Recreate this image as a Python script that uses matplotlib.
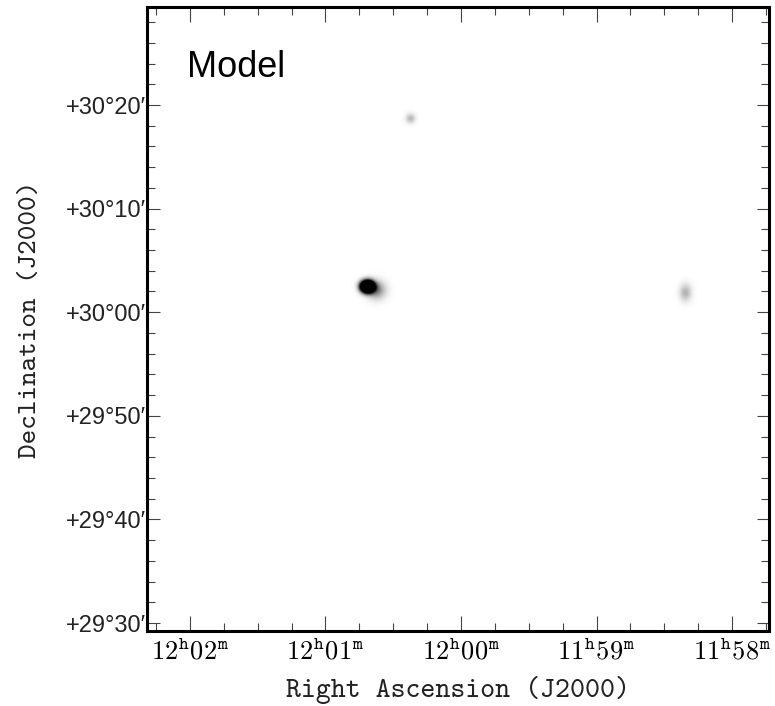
import numpy as np
import matplotlib as mpl
import matplotlib.pyplot as plt
from matplotlib.font_manager import FontProperties
import os

# model components: RA (minutes of time), Dec offset from +30 deg (arcmin),
# peak, sigma along RA (arcmin), sigma along Dec (arcmin)
comp_ra = [720.694, 720.627, 720.376, 718.347]
comp_dec = [2.43, 2.10, 18.65, 1.85]
comp_peak = [1.0, 0.12, 0.07, 0.075]
comp_sig_ra = [0.42, 0.60, 0.32, 0.40]
comp_sig_dec = [0.37, 0.60, 0.32, 0.58]

ra_ticks = [722, 721, 720, 719, 718]
ra_labels = ['12^{h}02^{m}', '12^{h}01^{m}', '12^{h}00^{m}', '11^{h}59^{m}', '11^{h}58^{m}']
dec_ticks = [-30, -20, -10, 0, 10, 20]
dec_labels = ['+29°30′', '+29°40′', '+29°50′', '+30°00′', '+30°10′', '+30°20′']

ra_lim = (722.317, 717.727)
dec_lim = (-30.77, 29.46)

plt.rcParams['mathtext.fontset'] = 'cm'
tt = FontProperties(fname=os.path.join(mpl.get_data_path(), 'fonts', 'ttf', 'cmtt10.ttf'))

# build model image
ra = np.linspace(ra_lim[1], ra_lim[0], 700)
dec = np.linspace(dec_lim[0], dec_lim[1], 700)
RA, DEC = np.meshgrid(ra, dec)
img = np.zeros_like(RA)
cosd = np.cos(np.radians(30.0))
for r0, d0, a, sx, sy in zip(comp_ra, comp_dec, comp_peak, comp_sig_ra, comp_sig_dec):
    dx = (RA - r0) * 15 * cosd
    dy = DEC - d0
    img += a * np.exp(-0.5 * ((dx / sx) ** 2 + (dy / sy) ** 2))

fig = plt.figure(figsize=(7.75, 7.06), dpi=100)
ax = fig.add_axes([0.1897, 0.1062, 0.8026, 0.8839])
ax.imshow(img, cmap='gray_r', vmin=0, vmax=0.25, origin='lower', aspect='auto',
          extent=[ra_lim[1], ra_lim[0], dec_lim[0], dec_lim[1]], interpolation='bilinear')
ax.set_xlim(ra_lim)
ax.set_ylim(dec_lim)

ax.set_xticks(ra_ticks)
ax.set_xticklabels(['$\\mathtt{' + s + '}$' for s in ra_labels], fontsize=19)
ax.set_xticks(np.arange(717.75, 722.5, 0.25), minor=True)
ax.set_yticks(dec_ticks)
ax.set_yticklabels(dec_labels, fontsize=17, family=['Liberation Sans', 'DejaVu Sans'],
                   color='#222')
ax.set_yticks(np.arange(-30, 30, 2), minor=True)

ax.tick_params(which='both', direction='in', top=True, right=True, color='#444', width=0.8)
ax.tick_params(axis='x', which='major', length=11, pad=6)
ax.tick_params(axis='y', which='major', length=9, pad=1)
ax.tick_params(which='minor', length=5.8)
for s in ax.spines.values():
    s.set_linewidth(2.2)

ax.set_xlabel('Right Ascension (J2000)', fontproperties=tt, fontsize=20.5, labelpad=8,
              color='#222')
ax.set_ylabel('Declination (J2000)', fontproperties=tt, fontsize=20, labelpad=17,
              color='#222')

ax.text(0.064, 0.888, 'Model', transform=ax.transAxes, fontsize=26,
        family=['Liberation Sans', 'DejaVu Sans'], va='baseline')

plt.savefig('out.png', dpi=100)
